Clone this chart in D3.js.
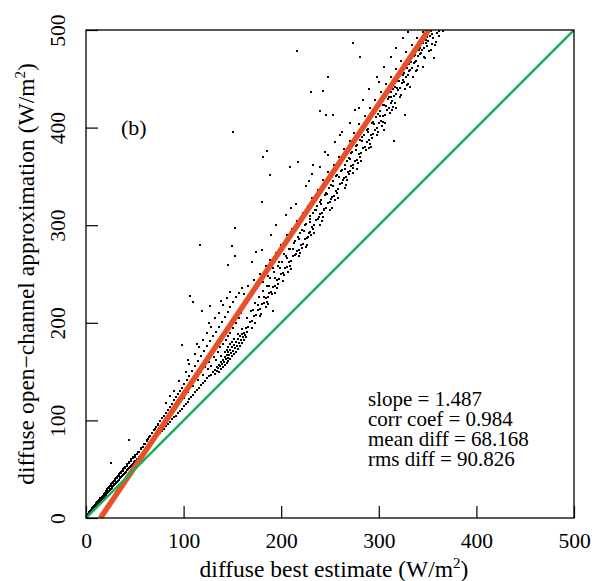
<!DOCTYPE html>
<html>
<head>
<meta charset="utf-8">
<script src="https://cdn.jsdelivr.net/npm/d3@7"></script>
<style>
  body { margin: 0; background: #fff; }
</style>
</head>
<body>
<div id="chart"></div>
<script>
const serif = "'Liberation Serif', 'Times New Roman', Times, serif";

// axis ticks
const tickValues = [0, 100, 200, 300, 400, 500];

// fit stats (text box)
const statLines = ['slope = 1.487', 'corr coef = 0.984', 'mean diff = 68.168', 'rms diff = 90.826'];
const fitSlope = 1.487;
const fitIntercept = -22;

// [best estimate, open-channel approx] pairs
const lowerStrand = [[1,1],[2,2],[3,4],[4,5],[5,6],[6,7],[7,8],[8,9],[9,11],[10,12],[11,13],[12,14],[13,15],[14,16],[15,18],[16,19],[17,20],[18,21],[19,22],[20,23],[21,25],[22,26],[23,27],[24,28],[25,29],[26,30],[27,31],[28,33],[29,34],[30,35],[31,36],[32,37],[33,38],[34,39],[35,41],[36,42],[37,43],[38,44],[39,45],[40,46],[41,47],[42,49],[43,50],[44,51],[45,52],[46,53],[47,54],[48,55],[49,57],[50,58],[52,60],[54,62],[56,64],[58,67],[60,69],[62,71],[64,73],[66,76],[68,78],[70,80],[72,82],[74,85],[76,87],[78,89],[80,91],[82,94],[84,96],[86,98],[88,101],[90,103],[92,105],[94,108],[96,110],[98,112],[100,115],[102,117],[104,119],[106,122],[108,124],[110,126],[112,129],[114,131],[116,133],[118,136],[120,138],[122,140],[124,143],[126,145],[128,147],[130,150],[132,152],[134,155],[136,157],[138,160],[140,162],[142,165],[144,167],[146,170],[148,172],[150,175],[152,177],[154,180],[156,183],[158,186],[160,189]];

const originBand = [[1,3],[2,4],[3,6],[4,7],[5,8],[6,10],[7,11],[8,12],[9,13],[10,15],[11,16],[12,17],[13,18],[14,20],[15,21],[16,22],[17,23],[18,25],[19,26],[20,27],[21,28],[22,30],[23,31],[24,32],[25,33],[26,35],[27,36],[28,37],[29,38],[30,40],[31,41],[32,42],[33,43],[34,45],[35,46],[36,47],[37,48],[38,50],[39,51],[40,52],[42,55],[44,57],[46,60],[48,62],[50,65],[53,68],[56,72],[59,76],[62,80],[65,83],[68,87],[71,91],[74,95]];

const upperStrand = [[2,3],[4,6],[6,8],[8,11],[10,13],[12,16],[14,18],[16,21],[18,23],[20,26],[22,28],[24,31],[26,33],[28,36],[30,38],[32,41],[34,43],[36,46],[38,48],[40,51],[42,53],[44,56],[46,58],[48,61],[50,63],[52,66],[54,68],[56,71],[58,73],[60,76],[62,79],[64,81],[66,84],[68,87],[70,90],[72,93],[74,96],[76,99],[78,102],[80,105],[82,108],[84,111],[86,114],[88,117],[90,121],[92,124],[94,127],[96,130],[98,133],[100,137],[103,141],[106,146],[109,151],[112,156],[115,161],[118,166],[121,171],[124,176],[127,181],[130,186],[133,191],[136,196],[139,201],[142,206],[145,211],[148,216],[151,221],[154,226],[157,231],[160,236]];

const middleStrand = [[80,98],[85,104],[90,110],[95,117],[100,123],[105,129],[110,135],[115,141],[120,147],[125,153],[105,135],[110,142],[115,146],[118,150],[122,155],[126,160],[128,156],[131,165],[133,162],[135,170],[137,175],[140,178],[143,182],[145,186],[148,190],[151,195],[154,200],[157,205],[159,210]];

const leftOfFit = [[82,118],[86,125],[90,130],[95,140],[102,150],[104,162],[106,158],[112,168],[114,178],[116,175],[120,182],[124,190],[126,200],[128,196],[132,205],[136,210],[138,222],[140,218],[144,225],[148,232]];

const cluster = [[132,148],[134,151],[135,154],[136,150],[137,156],[138,153],[139,158],[140,155],[141,160],[142,157],[143,163],[144,159],[145,164],[146,161],[147,167],[148,163],[149,169],[150,166],[151,171],[152,168],[153,174],[154,170],[155,176],[156,173],[157,179],[158,176],[159,182],[160,179],[161,185],[162,182],[163,188],[164,185],[165,191],[144,172],[148,178],[152,183],[156,189],[160,194],[138,166],[142,170],[146,175],[150,180]];

const mainBand = [[162,190],[164,195],[166,196],[168,201],[170,202],[172,207],[174,208],[176,213],[178,214],[180,219],[182,220],[184,225],[186,226],[188,231],[190,232],[192,237],[194,238],[196,244],[198,245],[200,250],[202,251],[204,256],[206,257],[208,262],[210,263],[212,268],[214,269],[216,274],[218,275],[220,280],[222,281],[224,286],[226,287],[228,292],[230,293],[232,298],[234,300],[236,305],[238,306],[240,311],[242,312],[244,317],[246,318],[248,323],[250,324],[252,329],[254,330],[256,335],[258,337],[260,342],[262,343],[264,348],[266,349],[268,354],[270,356],[272,361],[274,362],[276,366],[278,367],[280,373],[282,374],[284,379],[286,380],[288,385],[290,387],[292,392],[294,393],[296,398],[298,400],[300,405],[302,407],[304,412],[306,413],[308,418],[310,420],[312,425],[314,427],[316,432],[318,434],[320,439],[322,441],[324,446],[326,447],[328,452],[330,454],[332,459],[334,461],[336,466],[338,468],[340,473],[342,475],[344,480],[346,482],[348,487],[350,489],[352,494],[354,496],
  [170,195],[178,207],[186,219],[194,231],[202,243],[210,255],[218,268],[226,280],[234,292],[242,304],[250,316],[258,328],[266,341],[274,353],[282,366],[290,379],[298,392],[306,405],[314,418],[322,431],[330,445],[338,458],[346,472],[354,486],[360,497]];

const bandSpread = [[165,205],[169,212],[173,220],[177,226],[181,233],[185,238],[189,246],[193,252],[197,258],[201,262],[205,268],[209,276],[213,282],[217,288],[221,295],[225,301],[229,306],[233,313],[237,320],[241,326],[245,331],[249,338],[253,345],[257,351],[261,356],[265,362],[269,369],[273,375],[277,381],[281,387],[285,392],[289,399],[293,405],[297,411],[301,417],[305,423],[309,429],[313,436],[317,442],[321,448],[325,454],[329,461],[333,467],[337,474],[341,480],[345,487],[349,493],[353,499],
  [184,216],[196,236],[207,252],[219,272],[231,290],[243,308],[255,326],[267,346],[279,364],[291,383],[303,402],[315,421],[327,440],[339,459],[351,478],[362,494]];

const bandFill = [[171,213],[173,200],[176,218],[179,209],[182,226],[185,221],[188,238],[191,229],[194,246],[197,240],[199,256],[203,249],[206,266],[209,258],[212,276],[215,270],[218,286],[221,277],[223,294],[227,288],[229,303],[233,296],[236,316],[239,308],[241,322],[244,316],[247,332],[251,327],[253,340],[257,333],[259,349],[263,346],[265,358],[269,352],[271,368],[274,359],[277,377],[281,370],[283,386],[287,377],[289,395],[293,389],[295,404],[299,395],[301,412],[304,406],[307,422],[311,415],[313,431],[317,425],[319,441],[323,433],[325,449],[329,444],[331,458],[335,452],[337,467],[340,463],[343,476],[347,471],[349,484],[353,480],[356,492],[359,488],[362,499]];

const nearFit = [[162,230],[166,238],[168,226],[172,244],[175,236],[178,250],[181,242],[184,258],[186,248],[189,264],[192,256],[195,272],[198,262],[200,280],[203,270],[206,290],[208,276],[211,296],[214,284],[216,304],[219,292],[222,312],[224,300],[227,320],[230,309],[232,328],[235,316],[238,336],[240,324],[243,346],[246,333],[248,354],[251,341],[254,362],[256,350],[259,370],[262,357],[264,378],[267,366],[270,386],[272,374],[275,394],[278,382],[280,404],[283,390],[286,412],[288,398],[291,420],[294,406],[296,428],[299,414],[302,436],[304,423],[307,445],[310,431],[312,452],[315,440],[318,460],[320,448],[323,468],[326,456],[328,477],[331,465],[334,485],[336,473],[339,492],[342,482],[345,498],[348,490]];

const aboveFit = [[170,262],[180,275],[190,290],[205,310],[215,322],[225,340],[232,352],[240,360],[248,372],[255,385],[262,395],[270,405],[276,418],[284,428],[290,440],[298,452],[305,462],[312,472],[318,482],[325,492],[330,498],[195,300],[210,318],[228,345],[245,375],[260,392],[280,420],[300,447]];

const belowBand = [[210,255],[225,278],[240,300],[252,318],[265,338],[278,358],[292,380],[305,398],[318,420],[332,442],[345,462],[357,471],[358,485],[366,499]];

const outliers = [[151,395],[216,478],[185,376],[181,370],[189,351],[180,324],[153,297],[117,280],[150,279],[209,360],[217,365],[107,227],[98,177],[119,212],[127,217],[192,212],[231,436],[243,438],[240,417],[248,452],[281,472],[316,386],[327,413],[174,273],[145,259],[153,268],[26,56],[44,80],[110,221],[233,362],[246,413],[253,413],[274,487]];

const allPoints = [].concat(lowerStrand, originBand, upperStrand, middleStrand, leftOfFit, cluster, mainBand, bandSpread, bandFill, nearFit, aboveFit, belowBand, outliers);

const width = 592, height = 581;
const margin = { top: 30, right: 18, bottom: 63, left: 86 };

const svg = d3.select('#chart').append('svg')
  .attr('width', width)
  .attr('height', height)
  .style('font-family', serif);

const x = d3.scaleLinear().domain([0, 500]).range([margin.left, width - margin.right]);
const y = d3.scaleLinear().domain([0, 500]).range([height - margin.bottom, margin.top]);

svg.append('clipPath').attr('id', 'plotClip')
  .append('rect')
  .attr('x', x(0)).attr('y', y(500))
  .attr('width', x(500) - x(0)).attr('height', y(0) - y(500));

const plot = svg.append('g').attr('clip-path', 'url(#plotClip)');

// scatter, snapped to whole pixels so the dots stay black
plot.append('g').attr('shape-rendering', 'crispEdges').selectAll('rect')
  .data(allPoints)
  .enter().append('rect')
  .attr('x', d => Math.round(x(d[0])) - 1)
  .attr('y', d => Math.round(y(d[1])) - 1)
  .attr('width', 2)
  .attr('height', 2)
  .attr('fill', '#000');

// regression line
plot.append('line')
  .attr('x1', x((0 - fitIntercept) / fitSlope)).attr('y1', y(0))
  .attr('x2', x((500 - fitIntercept) / fitSlope)).attr('y2', y(500))
  .attr('stroke', '#e9502a')
  .attr('stroke-width', 5.5);

// 1:1 line
plot.append('line')
  .attr('x1', x(0)).attr('y1', y(0))
  .attr('x2', x(500)).attr('y2', y(500))
  .attr('stroke', '#17b05a')
  .attr('stroke-width', 2.5);

// axes, ticks pointing inward
const xAxis = svg.append('g')
  .attr('transform', 'translate(0,' + y(0) + ')')
  .call(d3.axisBottom(x).tickValues(tickValues).tickSizeInner(-12).tickSizeOuter(0));
const yAxis = svg.append('g')
  .attr('transform', 'translate(' + x(0) + ',0)')
  .call(d3.axisLeft(y).tickValues(tickValues).tickSizeInner(-12).tickSizeOuter(0));

[xAxis, yAxis].forEach(a => {
  a.attr('font-family', serif).attr('font-size', 21.5);
  a.select('.domain').remove();
  a.selectAll('line').attr('stroke', '#000').attr('stroke-width', 1.2);
  a.selectAll('text').attr('fill', '#000');
});
xAxis.selectAll('text').attr('y', 30).attr('dy', 0);
yAxis.selectAll('text')
  .attr('x', 0).attr('y', 0).attr('dy', 0)
  .attr('text-anchor', 'middle')
  .attr('transform', 'translate(-21,0) rotate(-90)');

// frame
svg.append('rect')
  .attr('x', x(0)).attr('y', y(500))
  .attr('width', x(500) - x(0)).attr('height', y(0) - y(500))
  .attr('fill', 'none')
  .attr('stroke', '#000')
  .attr('stroke-width', 1.3);

// panel label
svg.append('text')
  .attr('x', 121).attr('y', 135)
  .attr('font-family', serif)
  .attr('font-size', 22)
  .text('(b)');

// stats
svg.append('g').selectAll('text')
  .data(statLines)
  .enter().append('text')
  .attr('x', 368)
  .attr('y', (d, i) => 406 + i * 20)
  .attr('font-family', serif)
  .attr('font-size', 21)
  .text(d => d);

// axis titles
const xTitle = svg.append('text')
  .attr('x', (x(0) + x(500)) / 2 + 4).attr('y', 577)
  .attr('text-anchor', 'middle')
  .attr('font-family', serif)
  .attr('font-size', 23.5);
xTitle.append('tspan').text('diffuse best estimate (W/m');
xTitle.append('tspan').attr('font-size', 15).attr('dy', -9).text('2');
xTitle.append('tspan').attr('dy', 9).text(')');

const yTitle = svg.append('text')
  .attr('transform', 'translate(34,' + (y(0) + y(500)) / 2 + ') rotate(-90)')
  .attr('text-anchor', 'middle')
  .attr('font-family', serif)
  .attr('font-size', 23.5);
yTitle.append('tspan').text('diffuse open\u2212channel approximation (W/m');
yTitle.append('tspan').attr('font-size', 15).attr('dy', -9).text('2');
yTitle.append('tspan').attr('dy', 9).text(')');
</script>
</body>
</html>
